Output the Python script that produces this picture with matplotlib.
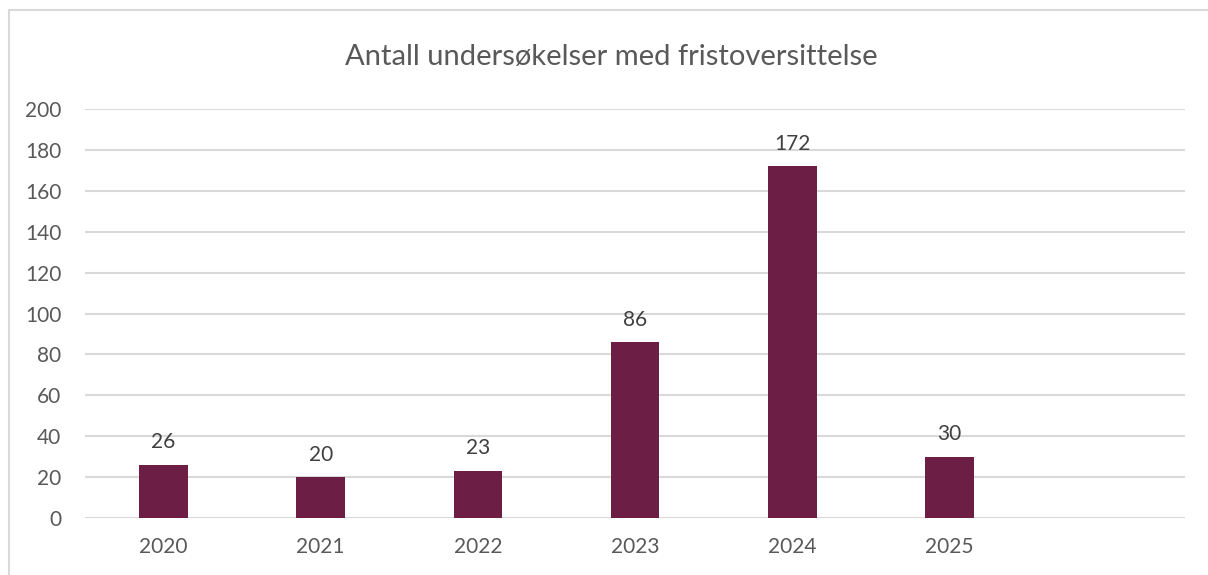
import matplotlib
matplotlib.use("Agg")
import matplotlib.pyplot as plt
from matplotlib.patches import Rectangle

categories = ["2020", "2021", "2022", "2023", "2024", "2025", ""]
values = [26, 20, 23, 86, 172, 30, None]
yticks = [0, 20, 40, 60, 80, 100, 120, 140, 160, 180, 200]
title = "Antall undersøkelser med fristoversittelse"

plt.rcParams['font.family'] = ['Lato', 'DejaVu Sans']

W, H = 1208, 575
fig = plt.figure(figsize=(W / 100, H / 100), dpi=100)
fig.patch.set_facecolor("white")

# outer chart border
fig.patches.append(Rectangle((9 / W, -0.05), 1.1, (H - 10) / H + 0.05,
                             transform=fig.transFigure, fill=False,
                             edgecolor="#D9D9D9", linewidth=1.5))

ax = fig.add_axes([85 / W, 57 / H, 1100 / W, 409 / H])
xs = list(range(len(categories)))
bar_x = [x for x, v in zip(xs, values) if v is not None]
bar_v = [v for v in values if v is not None]
bars = ax.bar(bar_x, bar_v, width=0.31, color="#6D1E45", zorder=3)
for x, v in zip(bar_x, bar_v):
    ax.annotate(str(v), (x, v), xytext=(0, 9), textcoords="offset points",
                ha="center", va="bottom", fontsize=15, color="#404040")

ax.set_xlim(-0.5, len(categories) - 0.5)
ax.set_ylim(0, 200)
ax.set_yticks(yticks)
ax.set_xticks(xs)
ax.set_xticklabels(categories)
ax.tick_params(axis="both", length=0, labelsize=15, colors="#595959")
ax.tick_params(axis="y", pad=17)
ax.tick_params(axis="x", pad=14)
ax.grid(axis="y", color="#D9D9D9", linewidth=1.5, zorder=0)
for s in ax.spines.values():
    s.set_visible(False)

fig.text(611 / W, 1 - 57 / H, title, ha="center", va="center",
         fontsize=21, color="#595959")

fig.savefig("out.png", dpi=100)
